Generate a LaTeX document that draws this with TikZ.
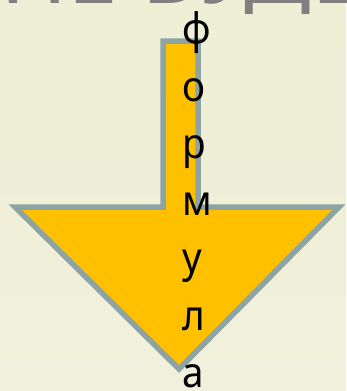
\documentclass[tikz,border=0pt]{standalone}
\usepackage{fontspec}
\newfontfamily\vfont[FakeStretch=0.92]{Noto Sans}
\newfontfamily\tfont[FakeStretch=1.3]{Noto Sans}
\definecolor{bgtop}{RGB}{239,239,214}
\definecolor{bgmid}{RGB}{255,255,212}
\definecolor{bgbot}{RGB}{240,240,220}
\definecolor{arrowfill}{RGB}{255,192,0}
\definecolor{arrowline}{RGB}{142,164,164}
\definecolor{titlegray}{RGB}{128,128,128}
\tikzset{
  arrowshape/.style={fill=arrowfill, draw=arrowline, line width=5.5pt, line join=miter, miter limit=10},
  letter/.style={anchor=base west, inner sep=0pt, font=\vfont\fontsize{42}{42}\selectfont, text=black},
  titletext/.style={anchor=base, inner sep=0pt, font=\tfont\fontsize{70}{70}\selectfont, text=titlegray}
}
\begin{document}
\begin{tikzpicture}[x=1pt,y=-1pt]
\useasboundingbox (0,0) rectangle (346,391);
\begin{scope}
\clip (0,0) rectangle (346,391);
\shade[top color=bgtop, middle color=bgmid, bottom color=bgbot] (0,0) rectangle (346,391);
\node[titletext] (title) at (181,3) {НЕ БУДЕ};
\draw[arrowshape] (163,41) -- (198,41) -- (198,207) -- (339,207) -- (179,369) -- (15,207) -- (163,207) -- cycle;
\node[letter] (l1) at (182,43) {ф};
\node[letter] (l2) at (182,101) {о};
\node[letter] (l3) at (182,158) {р};
\node[letter] (l4) at (182,215) {м};
\node[letter] (l5) at (182,272) {у};
\node[letter] (l6) at (182,330) {л};
\node[letter] (l7) at (182,387) {а};
\end{scope}
\end{tikzpicture}
\end{document}
